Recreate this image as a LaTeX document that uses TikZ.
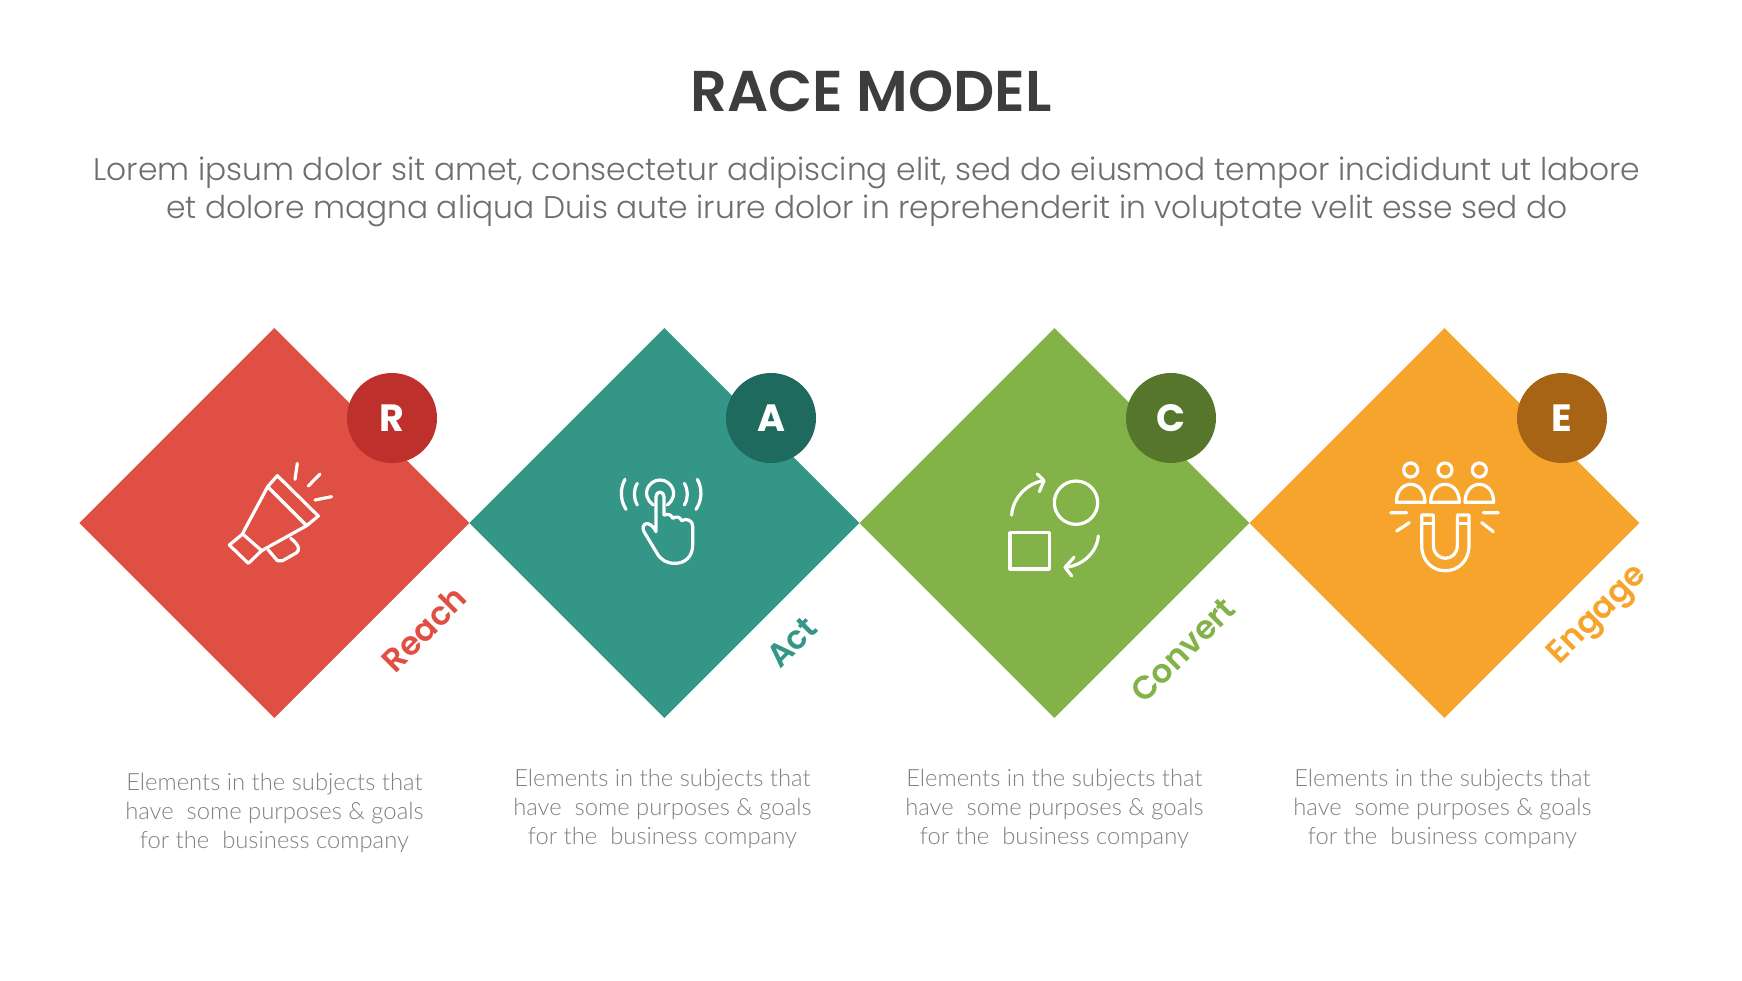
\documentclass[tikz,border=0pt]{standalone}
\usepackage{fontspec}
\usepackage{tikz}
\usetikzlibrary{shapes.geometric}
\setmainfont{Poppins}
\newfontfamily\headfont{Poppins SemiBold}
\newfontfamily\markfont{Poppins Bold}
\newfontfamily\leadfont{Poppins Light}
\newfontfamily\bodyfont{Lato Light}
\definecolor{reachc}{HTML}{E04F44}
\definecolor{reachd}{HTML}{BD302C}
\definecolor{actc}{HTML}{339687}
\definecolor{actd}{HTML}{1E6A5F}
\definecolor{convc}{HTML}{82B248}
\definecolor{convd}{HTML}{56772B}
\definecolor{engc}{HTML}{F6A42C}
\definecolor{engd}{HTML}{A86415}
\definecolor{titlec}{HTML}{3D3D3D}
\definecolor{leadc}{HTML}{6E6E6E}
\definecolor{bodyc}{HTML}{808080}
\tikzset{
	tile/.style={diamond, aspect=1, inner sep=0pt, minimum width=390pt, minimum height=390pt},
	badge/.style={circle, inner sep=0pt, minimum size=90pt, text=white, font=\markfont\fontsize{38}{38}\selectfont},
	tag/.style={rotate=45, inner sep=0pt, font=\headfont\fontsize{32.5}{32.5}\selectfont},
	blurb/.style={align=center, inner sep=0pt, text=bodyc, font=\bodyfont\fontsize{23.8}{29.3}\selectfont},
	icon/.style={draw=white, line width=3.2pt, line cap=round, line join=round},
}
\begin{document}
\begin{tikzpicture}[x=1pt, y=-1pt]
	\useasboundingbox (0,0) rectangle (1742,980);
	\node[inner sep=0pt, text=titlec, font=\headfont\fontsize{57.5}{57.5}\selectfont] (title) at (871,91) {RACE MODEL};
	\node[align=center, inner sep=0pt, text=leadc, font=\leadfont\fontsize{31.3}{38}\selectfont] (lead) at (867,192) {Lorem ipsum dolor sit amet, consectetur adipiscing elit, sed do eiusmod tempor incididunt ut labore\\et dolore magna aliqua Duis aute irure dolor in reprehenderit in voluptate velit esse sed do};
	% tiles, badges, tags
	\foreach \nm/\cx/\col/\dark/\bx/\ltr/\tx/\ty/\word/\ex/\by in {
		reach/274.4/reachc/reachd/392/R/424/629/Reach/274.4/813,
		act/664.4/actc/actd/771/A/792/642/Act/662.4/809,
		conv/1054.4/convc/convd/1171/C/1183/650/Convert/1054.4/809,
		eng/1444.4/engc/engd/1562/E/1599/616/Engage/1442.4/809} {
		\node[tile, fill=\col] (\nm) at (\cx,523) {};
		\node[badge, fill=\dark] (\nm badge) at (\bx,418) {\ltr};
		\node[tag, text=\col] (\nm tag) at (\tx,\ty) {\word};
		\node[blurb] (\nm text) at (\ex,\by) {Elements in the subjects that\\have\ \ some purposes \& goals\\for the\ \ business company};
	}
	% megaphone
	\begin{scope}[shift={(200,430)}, scale=1/3]
		\draw[icon] (203,170) -- (232,137) -- (355,258) -- (320,287) -- cycle;
		\draw[icon] (203,170) -- (128,310) (320,287) -- (185,362);
		\draw[icon] (128,312) -- (88,345) -- (145,400) -- (185,362) -- cycle;
		\draw[icon] (205,360) -- (232,392) -- (248,392) -- (290,368) .. controls (300,360) and (298,345) .. (272,325);
		\draw[icon] (292,100) -- (285,148) (360,132) -- (325,168) (345,210) -- (395,200);
	\end{scope}
	% hand
	\begin{scope}[shift={(590,450)}, scale=1/3]
		\draw[icon] (190,165) .. controls (150,135) and (175,90) .. (210,90) .. controls (245,90) and (270,135) .. (232,165);
		\draw[icon] (105,88) .. controls (90,115) and (90,150) .. (108,178);
		\draw[icon] (142,100) .. controls (130,120) and (130,145) .. (142,165);
		\draw[icon] (283,100) .. controls (295,120) and (295,145) .. (283,165);
		\draw[icon] (322,88) .. controls (337,115) and (337,150) .. (318,178);
		\draw[icon] (198,245) -- (198,140) .. controls (198,122) and (222,122) .. (222,140) -- (222,195)
			.. controls (235,190) and (245,195) .. (248,205) .. controls (258,198) and (270,200) .. (275,212)
			.. controls (290,203) and (308,212) .. (308,228) -- (308,285)
			.. controls (308,320) and (285,340) .. (255,340) .. controls (230,340) and (212,330) .. (200,308)
			-- (162,245) .. controls (150,222) and (178,205) .. (198,245);
	\end{scope}
	% shapes with arrows
	\begin{scope}[shift={(980,450)}, scale=1/3]
		\draw[icon] (288,158) circle (65);
		\draw[icon] (90,248) rectangle (208,357);
		\draw[icon] (95,195) .. controls (98,145) and (140,100) .. (190,92);
		\draw[icon] (172,72) -- (192,92) -- (178,125);
		\draw[icon] (355,258) .. controls (350,310) and (305,348) .. (255,352);
		\draw[icon] (282,322) -- (255,352) -- (275,378);
	\end{scope}
	% magnet
	\begin{scope}[shift={(1370,450)}, scale=1/3]
		\foreach \hx in {122,225,328} {
			\draw[icon] (\hx,60) circle (21);
			\draw[icon] (\hx-43,157) .. controls (\hx-43,85) and (\hx+43,85) .. (\hx+43,157) -- cycle;
		}
		\draw[icon] (155,195) -- (190,195) -- (190,285) .. controls (190,338) and (262,338) .. (262,285) -- (262,195) -- (297,195) -- (297,285)
			.. controls (297,388) and (155,388) .. (155,285) -- cycle;
		\draw[icon] (155,220) -- (190,220) (262,220) -- (297,220);
		\draw[icon] (62,188) -- (110,188) (80,243) -- (118,218) (340,188) -- (385,188) (335,218) -- (370,245);
	\end{scope}
\end{tikzpicture}
\end{document}
